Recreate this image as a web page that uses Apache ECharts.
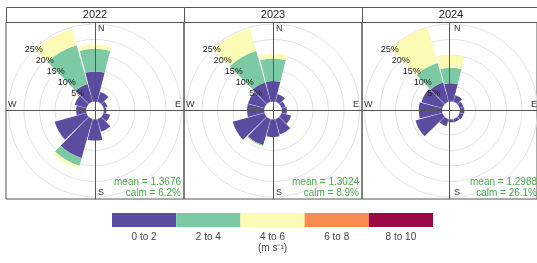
<!DOCTYPE html>
<html>
<head>
<meta charset="utf-8">
<script src="https://cdn.jsdelivr.net/npm/echarts@6/dist/echarts.min.js"></script>
<style>
  html, body { margin: 0; padding: 0; background: #fff; }
  #chart { width: 537px; height: 263px; }
</style>
</head>
<body>
<div id="chart"></div>
<script>
// wind direction sectors (degrees from north), 30 degree bins
const directions = ['0', '30', '60', '90', '120', '150', '180', '210', '240', '270', '300', '330'];
const years = ['2022', '2023', '2024'];
const speedBins = ['0 to 2', '2 to 4', '4 to 6', '6 to 8', '8 to 10'];
const binColors = ['#5b4c9f', '#7bcaa4', '#fbfbb6', '#f88c51', '#9c0a46'];
const means = ['1.3676', '1.3024', '1.2988'];
const calms = ['6.2%', '8.9%', '26.1%'];

// frequency (%) per sector and speed bin
const speed0to2_2022 = [9.7, 3.3, 1.3, 0.8, 2.2, 4.2, 6.8, 13.0, 10.6, 3.2, 3.9, 6.0];
const speed2to4_2022 = [7.3, 0, 0, 0, 0, 0, 0, 2.6, 0, 0, 0, 13.0];
const speed4to6_2022 = [1.4, 0, 0, 0, 0, 0, 0, 1.0, 0, 0, 0, 5.5];

const speed0to2_2023 = [6.6, 2.6, 1.3, 1.6, 3.2, 5.1, 5.7, 8.7, 10.6, 5.5, 5.5, 6.5];
const speed2to4_2023 = [7.3, 0, 0, 0, 0, 0, 0, 0.3, 0, 0, 0, 10.5];
const speed4to6_2023 = [1.6, 0, 0, 0, 0, 0, 0, 0.3, 0, 0, 0, 7.7];

const speed0to2_2024 = [5.9, 2.2, 1.3, 1.4, 1.3, 1.0, 0.9, 2.4, 9.0, 7.5, 7.0, 6.5];
const speed2to4_2024 = [5.0, 0, 0, 0, 0, 0, 0, 0, 0, 0, 0, 6.5];
const speed4to6_2024 = [4.1, 0, 0, 0, 0, 0, 0, 0, 0, 0, 0, 12.0];

const yearData = [
  [speed0to2_2022, speed2to4_2022, speed4to6_2022],
  [speed0to2_2023, speed2to4_2023, speed4to6_2023],
  [speed0to2_2024, speed2to4_2024, speed4to6_2024]
];

const chart = echarts.init(document.getElementById('chart'), null, { renderer: 'canvas' });

const FONT = '"Liberation Sans", Arial, sans-serif';
const panelW = 178, panelX0 = 6, stripTop = 7, stripH = 15, panelTop = 22, panelH = 177;
const innerR = 9, outerR = 86.5;

let grid = [], xAxis = [], yAxis = [], polar = [], angleAxis = [], radiusAxis = [], series = [], graphic = [];

years.forEach(function (year, i) {
  const left = panelX0 + panelW * i;
  const cx = left + panelW / 2;
  const cy = panelTop + panelH / 2;

  // panel frame + cross lines
  grid.push({ left: left, top: panelTop, width: panelW, height: panelH, show: true, borderColor: '#555', borderWidth: 1 });
  const hidden = { show: false };
  xAxis.push({ type: 'value', gridIndex: i, min: -1, max: 1, z: 5,
    axisLine: { onZero: true, lineStyle: { color: '#555', width: 1 } },
    axisTick: hidden, axisLabel: hidden, splitLine: hidden });
  yAxis.push({ type: 'value', gridIndex: i, min: -1, max: 1, z: 5,
    axisLine: { onZero: true, lineStyle: { color: '#555', width: 1 } },
    axisTick: hidden, axisLabel: hidden, splitLine: hidden });

  // polar 3i: bars, 3i+1: rings, 3i+2: ring labels
  for (let k = 0; k < 3; k++) {
    polar.push({ center: [cx, cy], radius: [innerR, outerR] });
    angleAxis.push({
      polarIndex: 3 * i + k,
      type: k === 0 ? 'category' : 'value',
      data: k === 0 ? directions : undefined,
      min: k === 0 ? undefined : 0, max: k === 0 ? undefined : 360,
      startAngle: k === 0 ? 105 : 135,
      clockwise: true,
      axisLine: hidden, axisTick: hidden, axisLabel: hidden, splitLine: hidden, splitArea: hidden
    });
    radiusAxis.push({
      polarIndex: 3 * i + k,
      type: 'value', min: 0, max: 25, interval: 5,
      z: k === 2 ? 6 : 0,
      axisLine: hidden, axisTick: hidden,
      axisLabel: k === 2 ? {
        show: true, margin: 0, align: 'center', verticalAlign: 'middle',
        color: '#222', fontSize: 9, fontFamily: FONT,
        formatter: function (v) { return v > 0 ? v + '%' : ''; }
      } : hidden,
      splitLine: k === 1 ? { show: true, lineStyle: { color: '#e2e2e2', width: 1 } } : hidden
    });
  }

  yearData[i].forEach(function (vals, b) {
    series.push({
      type: 'bar', coordinateSystem: 'polar', polarIndex: 3 * i,
      stack: 'rose' + i, name: speedBins[b], data: vals,
      barCategoryGap: '5%', silent: true,
      itemStyle: { color: binColors[b] }
    });
  });

  // strip with year
  graphic.push({ type: 'rect', shape: { x: left + 0.5, y: stripTop + 0.5, width: panelW, height: stripH },
    style: { fill: '#fff', stroke: '#555', lineWidth: 1 }, z: 10 });
  graphic.push({ type: 'text', x: cx, y: stripTop + stripH / 2 + 0.5, z: 11,
    style: { text: year, fill: '#222', font: '11px ' + FONT, align: 'center', verticalAlign: 'middle' } });

  // compass letters
  const txt = function (t, x, y, align) {
    graphic.push({ type: 'text', x: x, y: y, z: 11,
      style: { text: t, fill: '#333', font: '9px ' + FONT, align: align, verticalAlign: 'middle' } });
  };
  txt('N', cx + 3, panelTop + 6.5, 'left');
  txt('S', cx + 3, panelTop + panelH - 6, 'left');
  txt('W', left + 2, cy - 6, 'left');
  txt('E', left + panelW - 3, cy - 6, 'right');

  // statistics
  const stat = function (t, y) {
    graphic.push({ type: 'text', x: left + panelW - 3, y: y, z: 11,
      style: { text: t, fill: '#4aa64a', font: '10px ' + FONT, align: 'right', verticalAlign: 'middle' } });
  };
  stat('mean = ' + means[i], panelTop + panelH - 17);
  stat('calm = ' + calms[i], panelTop + panelH - 6);
});

// colour key as a one-row bar strip
grid.push({ left: 112, top: 213, width: 321, height: 14 });
xAxis.push({
  type: 'category', gridIndex: 3, data: speedBins,
  axisLine: { show: false }, axisTick: { show: false },
  axisLabel: { color: '#444', fontSize: 10, fontFamily: FONT, margin: 5 },
  name: '(m s\u207B\u00B9)', nameLocation: 'middle', nameGap: 13,
  nameTextStyle: { color: '#444', fontSize: 10, fontFamily: FONT }
});
yAxis.push({ type: 'value', gridIndex: 3, min: 0, max: 1, show: false });
series.push({
  type: 'bar', xAxisIndex: 3, yAxisIndex: 3, barWidth: '100%', silent: true,
  data: speedBins.map(function (b, j) { return { value: 1, itemStyle: { color: binColors[j] } }; })
});

chart.setOption({
  animation: false,
  grid: grid, xAxis: xAxis, yAxis: yAxis,
  polar: polar, angleAxis: angleAxis, radiusAxis: radiusAxis,
  series: series, graphic: graphic
});
</script>
</body>
</html>
